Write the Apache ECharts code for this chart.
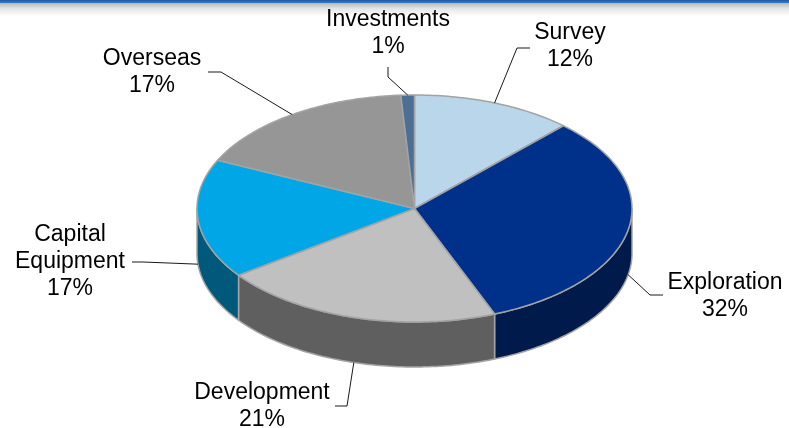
<!DOCTYPE html>
<html>
<head>
<meta charset="utf-8">
<script src="https://cdn.jsdelivr.net/npm/echarts@6/dist/echarts.min.js"></script>
<style>
  html, body { margin: 0; padding: 0; background: #ffffff; }
  #chart { width: 789px; height: 428px; }
</style>
</head>
<body>
<div id="chart"></div>
<script>
// Budget split, in percent, clockwise from 12 o'clock
const categories = ['Survey', 'Exploration', 'Development', 'Capital\nEquipment', 'Overseas', 'Investments'];
const shares = [12, 32, 21, 17, 17, 1];

// Face colours (top) and wall colours (front rim)
const topColors = ['#bad6eb', '#00318a', '#c0c0c0', '#00a6e6', '#969696', '#4d6f96'];
const sideColors = ['#8fa9bd', '#001b4b', '#5f5f5f', '#00587a', '#6a6a6a', '#2f4a69'];

// Label placement: text centre, leader start and leader knee
const labelCenter = [[570, 46.5], [725, 296], [262, 406], [70, 261.5], [152, 72], [388, 33.5]];
const leaderStart = [[530, 48], [663, 295], [335, 406], [132, 262], [208, 72], [388, 67]];
const leaderKnee  = [[517, 48], [650, 295], [347, 406], [143, 262], [221, 72], [388, 77]];

// Disc geometry
const CX = 414.5, CY = 208.5, RX = 217.5, RY = 113.5, DEPTH = 45;
const EDGE = '#a3a3a3';

const total = shares.reduce((a, b) => a + b, 0);

function sliceAngles(i) {
  let before = 0;
  for (let k = 0; k < i; k++) before += shares[k];
  return [before / total * Math.PI * 2, (before + shares[i]) / total * Math.PI * 2];
}

function pt(theta, dy) {
  return [CX + RX * Math.sin(theta), CY - RY * Math.cos(theta) + dy];
}

function arc(a0, a1, dy) {
  const n = Math.max(2, Math.ceil((a1 - a0) / (Math.PI / 180)));
  const out = [];
  for (let s = 0; s <= n; s++) out.push(pt(a0 + (a1 - a0) * s / n, dy));
  return out;
}

function renderWall(params, api) {
  const i = params.dataIndex;
  const [a0, a1] = sliceAngles(i);
  const b0 = Math.max(a0, Math.PI / 2), b1 = Math.min(a1, Math.PI * 1.5);
  if (b1 <= b0) return null;
  const pts = arc(b0, b1, 0).concat(arc(b0, b1, DEPTH).reverse());
  return {
    type: 'polygon',
    shape: { points: pts },
    style: { fill: sideColors[i], stroke: EDGE, lineWidth: 1.5, lineJoin: 'round' }
  };
}

function renderTop(params, api) {
  const i = params.dataIndex;
  const [a0, a1] = sliceAngles(i);
  const pts = [[CX, CY]].concat(arc(a0, a1, 0));
  return {
    type: 'polygon',
    shape: { points: pts },
    style: { fill: topColors[i], stroke: EDGE, lineWidth: 1.5, lineJoin: 'round' }
  };
}

function renderLabel(params, api) {
  const i = params.dataIndex;
  const [a0, a1] = sliceAngles(i);
  const mid = (a0 + a1) / 2;
  const tip = Math.cos(mid) < 0 ? pt(mid, DEPTH) : pt(mid, 0);
  return {
    type: 'group',
    children: [
      {
        type: 'polyline',
        shape: { points: [leaderStart[i], leaderKnee[i], tip] },
        style: { stroke: '#1a1a1a', lineWidth: 1, fill: null }
      },
      {
        type: 'text',
        x: labelCenter[i][0],
        y: labelCenter[i][1],
        style: {
          text: categories[i] + '\n' + api.value(0) + '%',
          fill: '#000000',
          font: '23px "Liberation Sans", Arial, sans-serif',
          lineHeight: 27,
          align: 'center',
          verticalAlign: 'middle'
        }
      }
    ]
  };
}

const chart = echarts.init(document.getElementById('chart'), null, { renderer: 'canvas' });

chart.setOption({
  animation: false,
  backgroundColor: '#ffffff',
  graphic: [
    {
      type: 'rect',
      shape: { x: 0, y: 0, width: 789, height: 16 },
      style: {
        fill: new echarts.graphic.LinearGradient(0, 0, 0, 1, [
          { offset: 0, color: '#1c5aa3' },
          { offset: 0.2, color: '#3b7fc6' },
          { offset: 0.22, color: '#bdbdbd' },
          { offset: 0.55, color: '#e6e6e6' },
          { offset: 1, color: '#ffffff' }
        ])
      },
      z: 0
    }
  ],
  series: [
    { type: 'custom', coordinateSystem: 'none', z: 1, data: shares, renderItem: renderWall, silent: true },
    { type: 'custom', coordinateSystem: 'none', z: 2, data: shares, renderItem: renderTop, silent: true },
    { type: 'custom', coordinateSystem: 'none', z: 3, data: shares, renderItem: renderLabel, silent: true }
  ]
});
</script>
</body>
</html>
